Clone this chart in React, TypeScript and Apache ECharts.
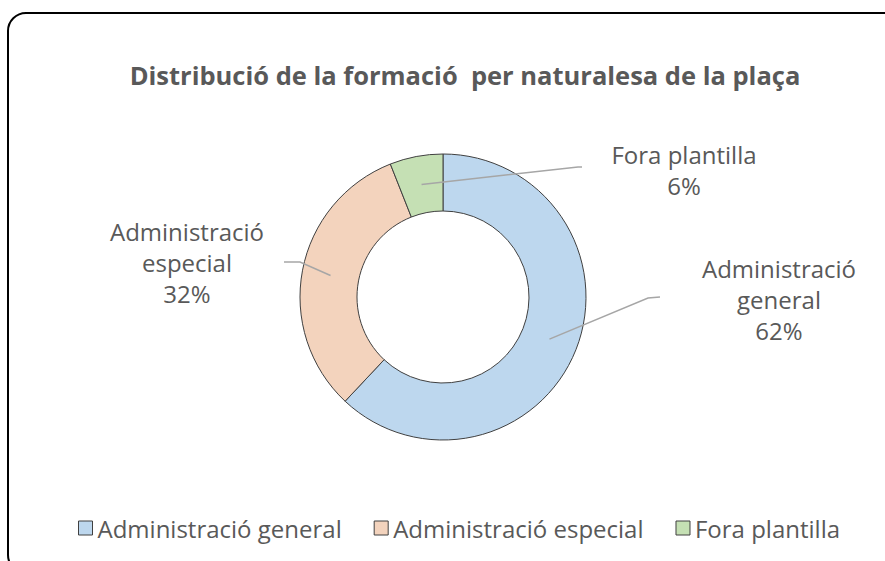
import React, { useEffect, useRef } from "react";
import * as echarts from "echarts";

const categories = ["Administració general", "Administració especial", "Fora plantilla"];
const values = [62, 32, 6];
const colors = ["#BDD7EE", "#F3D3BD", "#C5E0B4"];
const titleText = "Distribució de la formació  per naturalesa de la plaça";

// layout of the labels (x, y) and the leader-line bends
const labelPos = [
  [779, 299],
  [187, 262],
  [684, 170],
];
const lineBends = [
  [[648, 298], [660, 297]],
  [[300, 262], [284, 262]],
  [[578, 167], [582, 167]],
];

const CX = 443;
const CY = 297;
const R_IN = 86;
const R_OUT = 143;
const FONT = "Open Sans";

export default function App() {
  const ref = useRef<HTMLDivElement>(null);
  useEffect(() => {
    const chart = echarts.init(ref.current!, null, { renderer: "svg" });
    const midR = (R_IN + R_OUT) / 2;
    const baseData = categories.map((c, i) => ({ name: c, value: values[i] }));
    chart.setOption({
      animation: false,
      backgroundColor: "#ffffff",
      title: {
        text: titleText,
        left: 460,
        textAlign: "center",
        top: 57,
        textStyle: { fontFamily: FONT, fontSize: 25.5, fontWeight: "bold", color: "#595959" },
      },
      legend: {
        top: 511,
        left: 73,
        icon: "rect",
        itemWidth: 14,
        itemHeight: 14,
        itemGap: 32,
        textStyle: { fontFamily: FONT, fontSize: 24, color: "#595959" },
        data: categories.map((c, i) => ({
          name: c,
          itemStyle: { color: colors[i], borderColor: "#404040", borderWidth: 1 },
        })),
      },
      graphic: [
        {
          type: "rect",
          shape: { x: 8, y: 13, width: 900, height: 560, r: 18 },
          style: { fill: "none", stroke: "#000000", lineWidth: 2 },
          silent: true,
        },
      ],
      series: [
        {
          type: "pie",
          center: [CX, CY],
          radius: [R_IN, R_OUT],
          startAngle: 90,
          clockwise: true,
          z: 2,
          data: baseData.map((d, i) => ({
            ...d,
            itemStyle: { color: colors[i], borderColor: "#404040", borderWidth: 1 },
          })),
          label: { show: false },
          labelLine: { show: false },
        },
        {
          type: "pie",
          center: [CX, CY],
          radius: [R_IN, R_OUT],
          startAngle: 90,
          clockwise: true,
          silent: true,
          z: 5,
          data: baseData.map((d) => ({
            ...d,
            itemStyle: { color: "rgba(0,0,0,0)", borderWidth: 0 },
          })),
          label: {
            show: true,
            formatter: (p: any) => {
              const lines = p.dataIndex === 2 ? [p.name] : p.name.split(" ");
              return lines.join("\n") + "\n" + Math.round(p.percent) + "%";
            },
            fontFamily: FONT,
            fontSize: 24,
            lineHeight: 31,
            color: "#595959",
            align: "center",
          },
          labelLine: {
            show: true,
            lineStyle: { color: "#A6A6A6", width: 1.5 },
          },
          labelLayout: (p: any) => {
            const i = p.dataIndex;
            const pts = p.labelLinePoints;
            let start = [CX, CY];
            if (pts && pts[0]) {
              const dx = pts[0][0] - CX;
              const dy = pts[0][1] - CY;
              const d = Math.sqrt(dx * dx + dy * dy) || 1;
              start = [CX + (dx / d) * midR, CY + (dy / d) * midR];
            }
            return {
              x: labelPos[i][0],
              y: labelPos[i][1],
              align: "center",
              verticalAlign: "middle",
              labelLinePoints: [start, lineBends[i][0], lineBends[i][1]],
            };
          },
        },
      ],
    });
    return () => chart.dispose();
  }, []);
  return (
    <div
      ref={ref}
      style={{ position: "absolute", left: 0, top: 0, width: 885, height: 561 }}
    />
  );
}
